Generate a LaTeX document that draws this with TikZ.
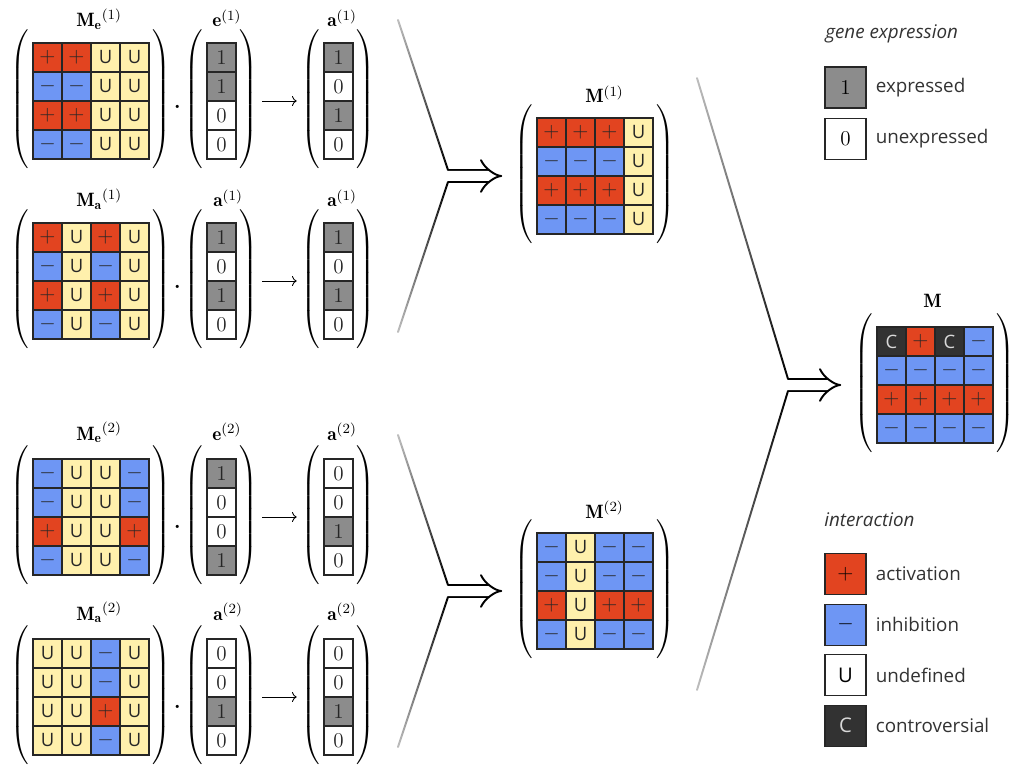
\documentclass[tikz,border=0pt]{standalone}
\usepackage{amsmath}
\usepackage{fontspec}
\setsansfont{Open Sans}
\usepackage{tikz}
\usetikzlibrary{arrows.meta}
\usetikzlibrary{matrix}
\usetikzlibrary{fit}
\usetikzlibrary{calc}
\usetikzlibrary{fadings}
\usetikzlibrary{positioning}

\definecolor{actred}{RGB}{226,68,32}
\definecolor{inhblue}{RGB}{110,150,244}
\definecolor{undyellow}{RGB}{255,240,172}
\definecolor{exprgray}{RGB}{140,140,140}
\definecolor{contdark}{RGB}{50,50,50}

\tikzfading[name=fadeup, top color=transparent!75, bottom color=transparent!0]
\tikzfading[name=fadedown, top color=transparent!0, bottom color=transparent!75]

\newcommand{\syma}{$+$}
\newcommand{\symi}{$-$}
\newcommand{\symu}{{\fontsize{10.5}{12}\sffamily U}}
\newcommand{\symc}{{\fontsize{10.5}{12}\sffamily C}}
\newcommand{\syme}{$1$}
\newcommand{\symn}{$0$}

% one coloured cell per entry, rows top to bottom
\newcommand{\cellgrid}[3]{%
  \foreach \row [count=\i] in {#3} {
    \foreach \cl [count=\j] in \row
      \node[cell, c\cl] (#1-\i-\j) at ($(#2)+(\j*0.58-0.29,0.29-\i*0.58)$) {\csname sym\cl\endcsname};
  }
}

\begin{document}
\begin{tikzpicture}[
    font=\fontsize{11.5}{14}\selectfont,
    cell/.style={draw=black!85, line width=0.6pt, minimum size=0.58cm, inner sep=0pt},
    ca/.style={fill=actred, text=black!85},
    ci/.style={fill=inhblue, text=black!85},
    cu/.style={fill=undyellow, text=black!85},
    cc/.style={fill=contdark, text=black!15},
    ce/.style={fill=exprgray, text=black!85},
    cn/.style={fill=white, text=black!85},
    paren/.style={inner xsep=0.5pt, inner ysep=0.18cm, left delimiter=(, right delimiter=)},
    lbl/.style={inner sep=0pt, anchor=base west, font=\fontsize{11}{13}\selectfont},
    times/.style={inner sep=0pt, font=\fontsize{17}{17}\selectfont},
    mapto/.style={-{Computer Modern Rightarrow}, line width=0.5pt, shorten <=0.49cm, shorten >=0.51cm},
    fanin/.style={line width=1.1pt, line cap=round},
    merge/.style={double=white, double distance=0.2cm, line width=1.1pt, -{Implies[scale=1.7]}},
    legbox/.style={draw=black!85, line width=0.6pt, minimum size=0.82cm, inner sep=0pt},
    legtext/.style={inner sep=0pt, font=\fontsize{10.7}{13}\sffamily, text=black!80}
  ]
  \fill[white] (0,0) rectangle (20.28,-15.3);
  \useasboundingbox (0,0) rectangle (20.28,-15.3);

  % first sample
  \cellgrid{Me1}{0.66,-0.86}{{a,a,u,u},{i,i,u,u},{a,a,u,u},{i,i,u,u}}
  \cellgrid{e1}{4.14,-0.86}{{e},{e},{n},{n}}
  \cellgrid{a1r}{6.48,-0.86}{{e},{n},{e},{n}}
  \cellgrid{Ma1}{0.66,-4.46}{{a,u,a,u},{i,u,i,u},{a,u,a,u},{i,u,i,u}}
  \cellgrid{a1m}{4.14,-4.46}{{e},{n},{e},{n}}
  \cellgrid{a1s}{6.48,-4.46}{{e},{n},{e},{n}}
  \node[paren, fit=(Me1-1-1)(Me1-4-4)] (Me1) {};
  \node[paren, fit=(e1-1-1)(e1-4-1)] (e1) {};
  \node[paren, fit=(a1r-1-1)(a1r-4-1)] (a1r) {};
  \node[paren, fit=(Ma1-1-1)(Ma1-4-4)] (Ma1) {};
  \node[paren, fit=(a1m-1-1)(a1m-4-1)] (a1m) {};
  \node[paren, fit=(a1s-1-1)(a1s-4-1)] (a1s) {};
  \node[lbl] (lMe1) at (1.52,-0.54) {${\mathbf{M}_{\mathbf{e}}}^{(1)}$};
  \node[lbl] (le1) at (4.24,-0.54) {$\mathbf{e}^{(1)}$};
  \node[lbl] (la1r) at (6.54,-0.54) {$\mathbf{a}^{(1)}$};
  \node[lbl] (lMa1) at (1.52,-4.14) {${\mathbf{M}_{\mathbf{a}}}^{(1)}$};
  \node[lbl] (la1m) at (4.26,-4.14) {$\mathbf{a}^{(1)}$};
  \node[lbl] (la1s) at (6.54,-4.14) {$\mathbf{a}^{(1)}$};
  \node[times] (d1) at (3.56,-2.16) {$\cdot$};
  \node[times] (d2) at (3.56,-5.76) {$\cdot$};
  \draw[mapto] (e1) -- (a1r);
  \draw[mapto] (a1m) -- (a1s);

  % second sample
  \cellgrid{Me2}{0.66,-9.18}{{i,u,u,i},{i,u,u,i},{a,u,u,a},{i,u,u,i}}
  \cellgrid{e2}{4.14,-9.18}{{e},{n},{n},{e}}
  \cellgrid{a2r}{6.48,-9.18}{{n},{n},{e},{n}}
  \cellgrid{Ma2}{0.66,-12.78}{{u,u,i,u},{u,u,i,u},{u,u,a,u},{u,u,i,u}}
  \cellgrid{a2m}{4.14,-12.78}{{n},{n},{e},{n}}
  \cellgrid{a2s}{6.48,-12.78}{{n},{n},{e},{n}}
  \node[paren, fit=(Me2-1-1)(Me2-4-4)] (Me2) {};
  \node[paren, fit=(e2-1-1)(e2-4-1)] (e2) {};
  \node[paren, fit=(a2r-1-1)(a2r-4-1)] (a2r) {};
  \node[paren, fit=(Ma2-1-1)(Ma2-4-4)] (Ma2) {};
  \node[paren, fit=(a2m-1-1)(a2m-4-1)] (a2m) {};
  \node[paren, fit=(a2s-1-1)(a2s-4-1)] (a2s) {};
  \node[lbl] (lMe2) at (1.52,-8.80) {${\mathbf{M}_{\mathbf{e}}}^{(2)}$};
  \node[lbl] (le2) at (4.24,-8.80) {$\mathbf{e}^{(2)}$};
  \node[lbl] (la2r) at (6.54,-8.80) {$\mathbf{a}^{(2)}$};
  \node[lbl] (lMa2) at (1.52,-12.40) {${\mathbf{M}_{\mathbf{a}}}^{(2)}$};
  \node[lbl] (la2m) at (4.26,-12.40) {$\mathbf{a}^{(2)}$};
  \node[lbl] (la2s) at (6.54,-12.40) {$\mathbf{a}^{(2)}$};
  \node[times] (d3) at (3.56,-10.56) {$\cdot$};
  \node[times] (d4) at (3.56,-14.16) {$\cdot$};
  \draw[mapto] (e2) -- (a2r);
  \draw[mapto] (a2m) -- (a2s);

  % per-sample and combined networks
  \cellgrid{M1}{10.74,-2.36}{{a,a,a,u},{i,i,i,u},{a,a,a,u},{i,i,i,u}}
  \cellgrid{M2}{10.74,-10.66}{{i,u,i,i},{i,u,i,i},{a,u,a,a},{i,u,i,i}}
  \cellgrid{M}{17.54,-6.54}{{c,a,c,i},{i,i,i,i},{a,a,a,a},{i,i,i,i}}
  \node[paren, fit=(M1-1-1)(M1-4-4)] (M1) {};
  \node[paren, fit=(M2-1-1)(M2-4-4)] (M2) {};
  \node[paren, fit=(M-1-1)(M-4-4)] (M) {};
  \node[lbl] (lM1) at (11.70,-2.06) {$\mathbf{M}^{(1)}$};
  \node[lbl] (lM2) at (11.70,-10.36) {$\mathbf{M}^{(2)}$};
  \node[lbl] (lM) at (18.46,-6.16) {$\mathbf{M}$};

  % merging arrows
  \coordinate (s1a) at (7.96,-0.40);
  \coordinate (j1a) at (8.96,-3.40);
  \coordinate (j1)  at (8.96,-3.52);
  \coordinate (j1b) at (8.96,-3.64);
  \coordinate (s1b) at (7.96,-6.64);
  \draw[fanin, path fading=fadeup] (s1a) -- (j1a);
  \draw[fanin, path fading=fadedown] (s1b) -- (j1b);
  \draw[merge, shorten >=0.66cm] (j1) -- (M1);

  \coordinate (s2a) at (7.96,-8.70);
  \coordinate (j2a) at (8.96,-11.70);
  \coordinate (j2)  at (8.96,-11.82);
  \coordinate (j2b) at (8.96,-11.94);
  \coordinate (s2b) at (7.96,-14.94);
  \draw[fanin, path fading=fadeup] (s2a) -- (j2a);
  \draw[fanin, path fading=fadedown] (s2b) -- (j2b);
  \draw[merge, shorten >=0.66cm] (j2) -- (M2);

  \coordinate (s3a) at (13.94,-1.56);
  \coordinate (j3a) at (15.76,-7.58);
  \coordinate (j3)  at (15.76,-7.70);
  \coordinate (j3b) at (15.76,-7.82);
  \coordinate (s3b) at (13.94,-13.80);
  \draw[fanin, path fading=fadeup] (s3a) -- (j3a);
  \draw[fanin, path fading=fadedown] (s3b) -- (j3b);
  \draw[merge, shorten >=0.68cm] (j3) -- (M);

  % legend
  \node[legtext, font=\fontsize{10.7}{13}\sffamily\itshape, anchor=base west] (hexpr) at (16.50,-0.78) {gene expression};
  \node[legbox, fill=exprgray] (lb1) at (16.91,-1.75) {$1$};
  \node[legbox, fill=white, below=0.18cm of lb1] (lb0) {$0$};
  \node[legtext, right=0.18cm of lb1] (t1) {expressed};
  \node[legtext, right=0.18cm of lb0] (t0) {unexpressed};

  \node[legtext, font=\fontsize{10.7}{13}\sffamily\itshape, anchor=base west] (hint) at (16.48,-10.52) {interaction};
  \node[legbox, fill=actred] (lba) at (16.91,-11.48) {$+$};
  \node[legbox, fill=inhblue, below=0.17cm of lba] (lbi) {$-$};
  \node[legbox, fill=white, below=0.17cm of lbi] (lbu) {\sffamily U};
  \node[legbox, fill=contdark, text=black!15, below=0.17cm of lbu] (lbc) {\sffamily C};
  \node[legtext, right=0.18cm of lba] (ta) {activation};
  \node[legtext, right=0.18cm of lbi] (ti) {inhibition};
  \node[legtext, right=0.18cm of lbu] (tu) {undefined};
  \node[legtext, right=0.18cm of lbc] (tc) {controversial};
\end{tikzpicture}
\end{document}
